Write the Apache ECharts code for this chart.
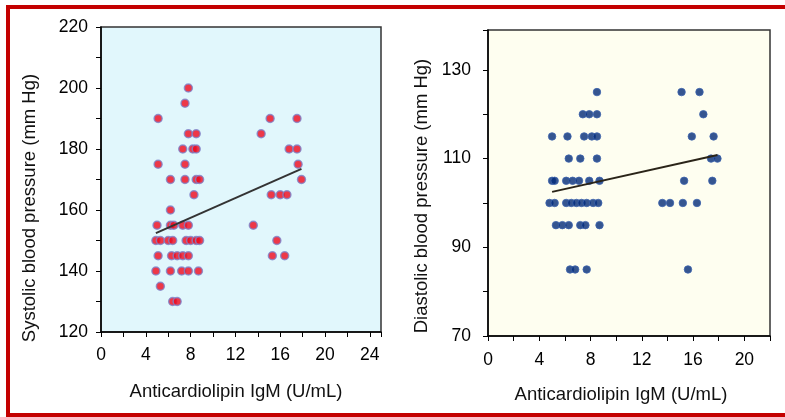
<!DOCTYPE html>
<html>
<head>
<meta charset="utf-8">
<script src="https://cdn.jsdelivr.net/npm/echarts@6/dist/echarts.min.js"></script>
<style>
html,body{margin:0;padding:0;background:#fff;}
#chart{width:785px;height:417px;}
</style>
</head>
<body>
<div id="chart"></div>
<script>
// ---- Data ----
// Systolic blood pressure vs Anticardiolipin IgM
const sbpIgM = [
  7.8, 7.5,
  5.1, 15.1, 17.5,
  7.8, 8.5, 14.3,
  7.3, 8.2, 8.5, 16.8, 17.5,
  5.1, 7.5, 17.6,
  6.2, 7.5, 8.5, 8.8, 17.9,
  8.3, 15.2, 16.0, 16.6,
  6.2,
  5.0, 6.2, 6.5, 7.3, 7.8, 13.6,
  4.9, 5.3, 6.0, 6.4, 7.6, 8.0, 8.5, 8.8, 15.7,
  5.1, 6.3, 6.8, 7.3, 7.8, 15.3, 16.4,
  4.9, 6.2, 7.2, 7.8, 8.7,
  5.3,
  6.4, 6.8
];
const sbpValues = [
  200, 195,
  190, 190, 190,
  185, 185, 185,
  180, 180, 180, 180, 180,
  175, 175, 175,
  170, 170, 170, 170, 170,
  165, 165, 165, 165,
  160,
  155, 155, 155, 155, 155, 155,
  150, 150, 150, 150, 150, 150, 150, 150, 150,
  145, 145, 145, 145, 145, 145, 145,
  140, 140, 140, 140, 140,
  135,
  130, 130
];
const sbpFitX = [4.9, 17.9];
const sbpFitY = [152.4, 173.5];

// Diastolic blood pressure vs Anticardiolipin IgM
const dbpIgM = [
  8.5, 15.1, 16.5,
  7.4, 7.9, 8.5, 16.8,
  5.0, 6.2, 7.5, 8.1, 8.5, 15.9, 17.6,
  6.3, 7.2, 8.5, 17.4, 17.9,
  5.0, 5.2, 6.1, 6.6, 7.1, 7.9, 8.7, 15.3, 17.5,
  4.8, 5.2, 6.1, 6.5, 6.9, 7.3, 7.7, 8.2, 8.6, 13.6, 14.2, 15.2, 16.3,
  5.3, 5.8, 6.3, 7.2, 7.6, 8.7,
  6.4, 6.8, 7.7, 15.6
];
const dbpValues = [
  125, 125, 125,
  120, 120, 120, 120,
  115, 115, 115, 115, 115, 115, 115,
  110, 110, 110, 110, 110,
  105, 105, 105, 105, 105, 105, 105, 105, 105,
  100, 100, 100, 100, 100, 100, 100, 100, 100, 100, 100, 100, 100,
  95, 95, 95, 95, 95, 95,
  85, 85, 85, 85
];
const dbpFitX = [5.0, 17.9];
const dbpFitY = [102.5, 110.8];

// Axis tick labels
const leftXLabels = [0, 4, 8, 12, 16, 20, 24];
const leftYLabels = [120, 140, 160, 180, 200, 220];
const rightXLabels = [0, 4, 8, 12, 16, 20];
const rightYLabels = [70, 90, 110, 130];

const xTitle = 'Anticardiolipin IgM (U/mL)';
const leftYTitle = 'Systolic blood pressure (mm Hg)';
const rightYTitle = 'Diastolic blood pressure (mm Hg)';

// ---- Build ----
const zip = (xs, ys) => xs.map((x, i) => [x, ys[i]]);
const FONT = '"Liberation Sans", Arial, sans-serif';

function labelFmt(list) {
  return v => (list.indexOf(Math.round(v * 100) / 100) >= 0 ? String(v) : '');
}
function xAxis(grid, min, max, labels, margin) {
  return {
    type: 'value', gridIndex: grid, min: min, max: max, interval: 2,
    axisLine: {show: true, lineStyle: {color: '#000', width: 1.5}},
    axisTick: {show: true, length: 5, inside: false, lineStyle: {color: '#000', width: 1}},
    splitLine: {show: false},
    axisLabel: {interval: 0, showMinLabel: true, showMaxLabel: true, margin: margin, color: '#000',
      fontFamily: FONT, fontSize: 17.5, formatter: labelFmt(labels)}
  };
}
function yAxis(grid, min, max, labels, margin) {
  return {
    type: 'value', gridIndex: grid, min: min, max: max, interval: 10,
    axisLine: {show: true, lineStyle: {color: '#000', width: 1.5}},
    axisTick: {show: true, length: 5, inside: false, lineStyle: {color: '#000', width: 1}},
    splitLine: {show: false},
    axisLabel: {interval: 0, showMinLabel: true, showMaxLabel: true, margin: margin, color: '#000',
      fontFamily: FONT, fontSize: 17.5, formatter: labelFmt(labels)}
  };
}

const chart = echarts.init(document.getElementById('chart'), null, {renderer: 'canvas'});
chart.setOption({
  backgroundColor: '#ffffff',
  animation: false,
  grid: [
    {left: 101, top: 27, width: 280, height: 305, show: true, backgroundColor: '#e1f7fc',
     borderColor: '#333', borderWidth: 1.5},
    {left: 488, top: 30, width: 282, height: 306, show: true, backgroundColor: '#fefef0',
     borderColor: '#333', borderWidth: 1.5}
  ],
  xAxis: [
    xAxis(0, 0, 25, leftXLabels, 14),
    xAxis(1, 0, 22, rightXLabels, 15)
  ],
  yAxis: [
    yAxis(0, 120, 220, leftYLabels, 13),
    yAxis(1, 70, 139, rightYLabels, 17)
  ],
  series: [
    {type: 'scatter', xAxisIndex: 0, yAxisIndex: 0, data: zip(sbpIgM, sbpValues),
     symbol: 'circle', symbolSize: 8,
     itemStyle: {color: '#f0081a', borderColor: '#7d84cc', borderWidth: 1.5}},
    {type: 'line', xAxisIndex: 0, yAxisIndex: 0, data: zip(sbpFitX, sbpFitY),
     symbol: 'none', lineStyle: {color: '#333', width: 2}, z: 3},
    {type: 'scatter', xAxisIndex: 1, yAxisIndex: 1, data: zip(dbpIgM, dbpValues),
     symbol: 'circle', symbolSize: 7.5,
     itemStyle: {color: '#022a78', borderColor: '#3d64ae', borderWidth: 1}},
    {type: 'line', xAxisIndex: 1, yAxisIndex: 1, data: zip(dbpFitX, dbpFitY),
     symbol: 'none', lineStyle: {color: '#2a2418', width: 2}, z: 3}
  ],
  graphic: [
    {type: 'rect', shape: {x: 8, y: 7, width: 800, height: 408},
     style: {fill: 'none', stroke: '#c40000', lineWidth: 4}, z: 100},
    {type: 'text', x: 236, y: 392, style: {text: xTitle, font: '18.5px ' + FONT, fill: '#111',
      textAlign: 'center', textVerticalAlign: 'middle'}},
    {type: 'text', x: 621, y: 395, style: {text: xTitle, font: '18.5px ' + FONT, fill: '#111',
      textAlign: 'center', textVerticalAlign: 'middle'}},
    {type: 'text', x: 30, y: 208, rotation: Math.PI / 2, style: {text: leftYTitle, font: '18.5px ' + FONT,
      fill: '#111', textAlign: 'center', textVerticalAlign: 'middle'}},
    {type: 'text', x: 422, y: 196, rotation: Math.PI / 2, style: {text: rightYTitle, font: '18.5px ' + FONT,
      fill: '#111', textAlign: 'center', textVerticalAlign: 'middle'}}
  ]
});
</script>
</body>
</html>
